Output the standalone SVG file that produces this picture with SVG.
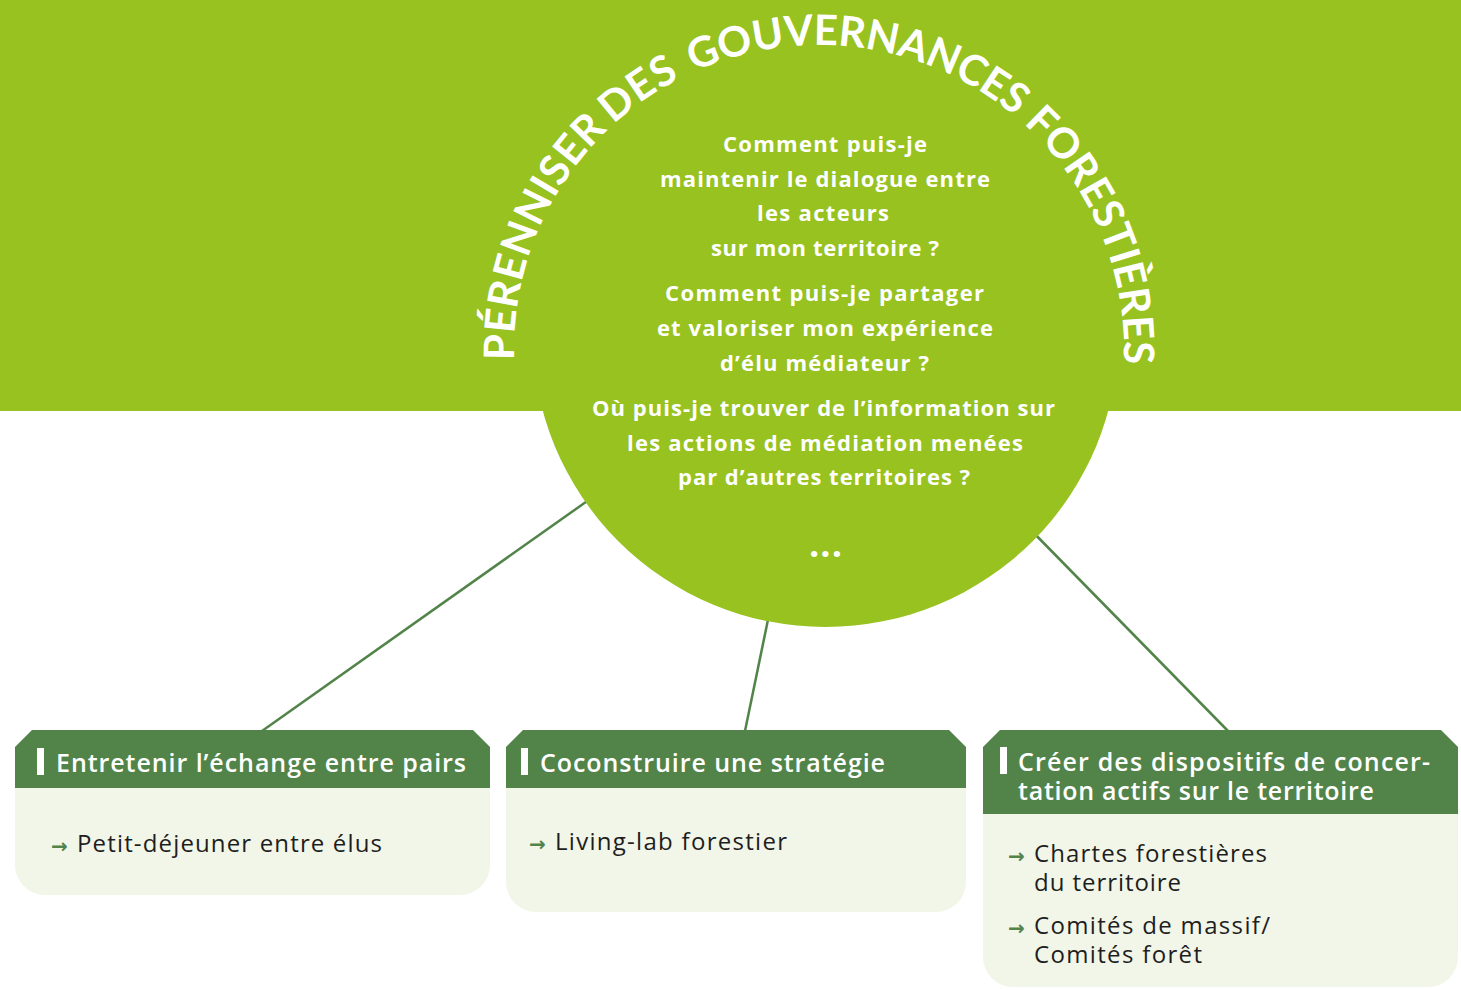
<svg xmlns="http://www.w3.org/2000/svg" width="1461" height="990" viewBox="0 0 1461 990">
<defs>
<style>
.band{fill:#97c21f}
.q{font-family:"Open Sans",Lato,"DejaVu Sans",sans-serif;font-weight:700;font-size:22px;fill:#ffffff;text-anchor:middle}
.title{font-family:Lato,"Open Sans","DejaVu Sans",sans-serif;font-weight:700;font-size:42px;fill:#ffffff}
.hdr{fill:#52844a}
.body{fill:#f2f6e8}
.ht{font-family:"Open Sans",Lato,"DejaVu Sans",sans-serif;font-weight:600;font-size:25px;fill:#ffffff}
.it{font-family:"Open Sans",Lato,"DejaVu Sans",sans-serif;font-size:24px;fill:#1e1e1e}
.ar{font-family:"DejaVu Sans",sans-serif;font-weight:700;font-size:20px;fill:#52844a}
.bar{fill:#ffffff}
.conn{stroke:#52844a;stroke-width:2.5;fill:none}
</style>
<path id="arc" d="M 518.63 402.96 A 305 305 0 1 1 1119.37 402.96"/>
</defs>
<rect class="band" x="0" y="0" width="1461" height="411"/>
<g id="connectors">
<line class="conn" x1="262" y1="731" x2="600" y2="492"/>
<line class="conn" x1="745" y1="731" x2="770" y2="610"/>
<line class="conn" x1="1228" y1="731" x2="1025" y2="524"/>
</g>
<g id="center">
<circle class="band" cx="825.5" cy="334" r="293"/>
<text class="title"><textPath href="#arc" startOffset="43.1" textLength="256" lengthAdjust="spacing">PÉRENNISER</textPath></text>
<text class="title"><textPath href="#arc" startOffset="306.6" textLength="81" lengthAdjust="spacing">DES</textPath></text>
<text class="title"><textPath href="#arc" startOffset="403" textLength="342" lengthAdjust="spacing">GOUVERNANCES</textPath></text>
<text class="title"><textPath href="#arc" startOffset="755.9" textLength="269" lengthAdjust="spacing">FORESTIÈRES</textPath></text>
<text class="q" x="825" y="152" textLength="204" lengthAdjust="spacing">Comment puis-je</text>
<text class="q" x="825" y="187" textLength="330" lengthAdjust="spacing">maintenir le dialogue entre</text>
<text class="q" x="823" y="221" textLength="132" lengthAdjust="spacing">les acteurs</text>
<text class="q" x="825" y="256" textLength="228" lengthAdjust="spacing">sur mon territoire ?</text>
<text class="q" x="824.5" y="301" textLength="319" lengthAdjust="spacing">Comment puis-je partager</text>
<text class="q" x="825" y="336" textLength="336" lengthAdjust="spacing">et valoriser mon expérience</text>
<text class="q" x="824.5" y="371" textLength="209" lengthAdjust="spacing">d’élu médiateur ?</text>
<text class="q" x="823.5" y="416" textLength="463" lengthAdjust="spacing">Où puis-je trouver de l’information sur</text>
<text class="q" x="825" y="451" textLength="396" lengthAdjust="spacing">les actions de médiation menées</text>
<text class="q" x="824" y="485" textLength="292" lengthAdjust="spacing">par d’autres territoires ?</text>
<text class="q" x="826" y="557" style="font-size:36px;letter-spacing:1px">...</text>
</g>
<g id="box1">
<path class="body" d="M15 788 H490 V865 A30 30 0 0 1 460 895 H45 A30 30 0 0 1 15 865 Z"/>
<path class="hdr" d="M32 730 H473 L490 747 V788 H15 V747 Z"/>
<rect class="bar" x="37" y="748" width="7" height="27"/>
<text class="ht" x="56" y="772" textLength="410" lengthAdjust="spacing">Entretenir l’échange entre pairs</text>
<text class="ar" x="51" y="853">→</text>
<text class="it" x="77" y="852" textLength="305" lengthAdjust="spacing">Petit-déjeuner entre élus</text>
</g>
<g id="box2">
<path class="body" d="M506 788 H966 V882 A30 30 0 0 1 936 912 H536 A30 30 0 0 1 506 882 Z"/>
<path class="hdr" d="M523 730 H949 L966 747 V788 H506 V747 Z"/>
<rect class="bar" x="521" y="748" width="7" height="27"/>
<text class="ht" x="540" y="772" textLength="345" lengthAdjust="spacing">Coconstruire une stratégie</text>
<text class="ar" x="529" y="851">→</text>
<text class="it" x="555" y="850" textLength="232" lengthAdjust="spacing">Living-lab forestier</text>
</g>
<g id="box3">
<path class="body" d="M983 814 H1458 V957 A30 30 0 0 1 1428 987 H1013 A30 30 0 0 1 983 957 Z"/>
<path class="hdr" d="M1000 730 H1441 L1458 747 V814 H983 V747 Z"/>
<rect class="bar" x="1000" y="747" width="7" height="27"/>
<text class="ht" x="1018" y="771" textLength="412" lengthAdjust="spacing">Créer des dispositifs de concer-</text>
<text class="ht" x="1018" y="800" textLength="356" lengthAdjust="spacing">tation actifs sur le territoire</text>
<text class="ar" x="1008" y="863">→</text>
<text class="it" x="1034" y="862" textLength="233" lengthAdjust="spacing">Chartes forestières</text>
<text class="it" x="1034" y="891" textLength="147" lengthAdjust="spacing">du territoire</text>
<text class="ar" x="1008" y="935">→</text>
<text class="it" x="1034" y="934" textLength="236" lengthAdjust="spacing">Comités de massif/</text>
<text class="it" x="1034" y="963" textLength="168" lengthAdjust="spacing">Comités forêt</text>
</g>
</svg>
